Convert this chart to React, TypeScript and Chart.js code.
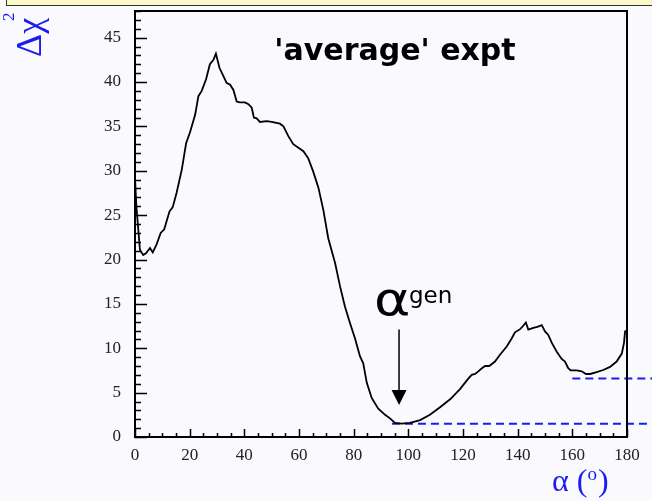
import React, { useEffect, useRef } from "react";
import { Chart, registerables } from "chart.js";

Chart.register(...registerables);

// ---- data ----
const alphaDeg = [
  0, 0.5, 1.2, 1.8, 3.0, 4.0, 5.5, 6.5, 7.9, 9.4, 10.7, 12.6, 13.8, 15.2, 17.1, 18.7, 20.1, 22.0, 23.2, 24.4,
  26.0, 27.4, 28.7, 29.6, 30.9, 32.3, 33.5, 34.8, 36.0, 37.2, 38.4, 40.2, 41.5, 42.7, 43.5, 44.5, 45.7, 48.2,
  50.0, 53.0, 54.3, 56.1, 57.9, 59.8, 61.6, 63.4, 65.2, 67.1, 68.9, 70.7, 73.2, 75.0, 76.8, 78.7, 80.5, 82.3,
  83.5, 84.8, 86.6, 89.0, 91.5, 93.3, 95.1, 97.6, 100.6, 104.3, 107.9, 111.6, 115.3, 118.9, 122.0, 123.2,
  124.4, 125.6, 126.9, 128.1, 129.6, 131.7, 133.6, 136.0, 137.8, 139.0, 140.9, 141.8, 143.0, 143.9, 145.7,
  147.2, 148.8, 150.0, 151.2, 152.5, 154.3, 156.1, 157.3, 158.5, 159.4, 161.6, 163.4, 165.0, 166.5, 168.9,
  171.3, 173.8, 176.2, 178.1, 178.9, 179.3, 180,
];
const deltaChi2 = [
  29.2, 26.0, 23.4, 21.1, 20.5, 20.7, 21.3, 20.8, 21.7, 23.0, 23.4, 25.4, 25.9, 27.5, 30.1, 33.1, 34.3, 36.3, 38.4, 39.0,
  40.3, 42.0, 42.5, 43.2, 41.6, 40.7, 39.9, 39.7, 39.1, 37.8, 37.7, 37.7, 37.5, 37.1, 36.0, 35.9, 35.5, 35.6,
  35.5, 35.3, 35.0, 33.9, 33.0, 32.6, 32.2, 31.4, 29.9, 28.1, 25.6, 22.4, 19.6, 17.0, 14.7, 12.8, 11.1, 9.1,
  8.3, 6.1, 4.4, 3.2, 2.5, 2.1, 1.6, 1.5, 1.6, 1.9, 2.5, 3.35, 4.25, 5.4, 6.6, 7.0,
  7.1, 7.4, 7.75, 8.0, 8.0, 8.5, 9.3, 10.2, 11.1, 11.8, 12.15, 12.45, 12.9, 12.1, 12.3,
  12.4, 12.6, 11.9, 11.5, 10.6, 9.6, 8.8, 8.5, 7.75, 7.5, 7.5, 7.4, 7.1, 7.1, 7.3,
  7.55, 7.9, 8.5, 9.4, 10.6, 11.9, 12.0,
];
const minLevelX = [94, 190];
const minLevelY = [1.5, 1.5];
const secondLevelX = [160, 190];
const secondLevelY = [6.6, 6.6];
const xTickLabels = [0, 20, 40, 60, 80, 100, 120, 140, 160, 180];
const yTickLabels = [0, 5, 10, 15, 20, 25, 30, 35, 40, 45];
const X_MIN = 0, X_MAX = 180, Y_MIN = 0, Y_MAX = 48;
const arrowX = [96.6, 96.6];
const arrowY = [12.1, 3.6];

const BLUE = "#1c1cf0";

const decorPlugin = {
  id: "decor",
  afterDatasetsDraw(chart: any) {
    const { ctx, chartArea: a, scales } = chart;
    const xs = scales.x, ys = scales.y;
    ctx.save();
    // frame
    ctx.strokeStyle = "#000";
    ctx.lineWidth = 2;
    ctx.strokeRect(a.left, a.top, a.right - a.left, a.bottom - a.top);
    // inward ticks
    ctx.lineWidth = 1.5;
    ctx.beginPath();
    for (let v = Y_MIN; v <= Y_MAX; v += 1) {
      const py = Math.round(ys.getPixelForValue(v)) + 0.5;
      const len = v % 5 === 0 ? 12 : 6;
      ctx.moveTo(a.left, py);
      ctx.lineTo(a.left + len, py);
    }
    for (let v = X_MIN; v <= X_MAX; v += 5) {
      const px = Math.round(xs.getPixelForValue(v)) + 0.5;
      const len = v % 20 === 0 ? 8 : 4;
      ctx.moveTo(px, a.bottom);
      ctx.lineTo(px, a.bottom - len);
    }
    ctx.stroke();

    // arrow
    const ax = xs.getPixelForValue(arrowX[0]);
    const ay0 = ys.getPixelForValue(arrowY[0]);
    const ay1 = ys.getPixelForValue(arrowY[1]);
    ctx.strokeStyle = "#000";
    ctx.lineWidth = 1.5;
    ctx.beginPath();
    ctx.moveTo(ax, ay0);
    ctx.lineTo(ax, ay1 - 12);
    ctx.stroke();
    ctx.fillStyle = "#000";
    ctx.beginPath();
    ctx.moveTo(ax - 7.5, ay1 - 15);
    ctx.lineTo(ax + 7.5, ay1 - 15);
    ctx.lineTo(ax, ay1);
    ctx.closePath();
    ctx.fill();

    // alpha^gen label
    ctx.fillStyle = "#000";
    ctx.textAlign = "left";
    ctx.textBaseline = "alphabetic";
    ctx.save();
    ctx.translate(374, 315);
    ctx.scale(1.2, 1);
    ctx.font = "46px 'DejaVu Sans'";
    ctx.fillText("α", 0, 0);
    ctx.restore();
    ctx.font = "23px 'DejaVu Sans'";
    ctx.fillText("gen", 409, 303);

    // title
    ctx.font = "bold 30px 'DejaVu Sans'";
    ctx.textAlign = "center";
    ctx.fillText("'average' expt", 395, 60);

    // y title (rotated)
    ctx.fillStyle = BLUE;
    ctx.save();
    ctx.translate(41, 57);
    ctx.rotate(-Math.PI / 2);
    ctx.textAlign = "left";
    ctx.font = "36px 'Liberation Serif'";
    ctx.fillText("Δχ", 0, 0);
    ctx.font = "17px 'Liberation Serif'";
    ctx.fillText("2", 36, -27);
    ctx.restore();

    // x title
    ctx.textAlign = "left";
    ctx.font = "32px 'Liberation Serif'";
    ctx.fillText("α (", 552, 491);
    const w = ctx.measureText("α (").width;
    ctx.font = "19px 'Liberation Serif'";
    ctx.fillText("o", 552 + w, 480);
    const w2 = ctx.measureText("o").width;
    ctx.font = "32px 'Liberation Serif'";
    ctx.fillText(")", 552 + w + w2 + 1, 491);
    ctx.restore();
  },
};

export default function App() {
  const ref = useRef<HTMLCanvasElement | null>(null);
  useEffect(() => {
    const canvas = ref.current;
    if (!canvas) return;
    const tickFont = { family: "'Liberation Serif'", size: 17 };
    const chart = new Chart(canvas, {
      type: "scatter",
      data: {
        datasets: [
          {
            data: alphaDeg.map((x, i) => ({ x, y: deltaChi2[i] })),
            showLine: true,
            borderColor: "#000",
            borderWidth: 1.8,
            pointRadius: 0,
            tension: 0,
          },
          {
            data: minLevelX.map((x, i) => ({ x, y: minLevelY[i] })),
            showLine: true,
            borderColor: BLUE,
            borderWidth: 2,
            borderDash: [8, 5],
            pointRadius: 0,
            clip: false,
          },
          {
            data: secondLevelX.map((x, i) => ({ x, y: secondLevelY[i] })),
            showLine: true,
            borderColor: BLUE,
            borderWidth: 2,
            borderDash: [8, 5],
            pointRadius: 0,
            clip: false,
          },
        ],
      },
      options: {
        responsive: false,
        animation: false,
        devicePixelRatio: 1,
        layout: { padding: { left: 0, top: 11, right: 25, bottom: 0 } },
        plugins: { legend: { display: false }, tooltip: { enabled: false }, title: { display: false } },
        scales: {
          x: {
            type: "linear",
            min: X_MIN,
            max: X_MAX,
            grid: { display: false, drawTicks: false },
            border: { display: false },
            afterBuildTicks: (s: any) => {
              s.ticks = xTickLabels.map((v) => ({ value: v }));
            },
            afterFit: (s: any) => {
              s.height = 64;
              s.paddingLeft = 0;
              s.paddingRight = 0;
              s.paddingTop = 0;
              s.paddingBottom = 0;
            },
            ticks: { font: tickFont, color: "#222", padding: 8, maxRotation: 0, autoSkip: false },
          },
          y: {
            type: "linear",
            min: Y_MIN,
            max: Y_MAX,
            grid: { display: false, drawTicks: false },
            border: { display: false },
            afterBuildTicks: (s: any) => {
              s.ticks = yTickLabels.map((v) => ({ value: v }));
            },
            afterFit: (s: any) => {
              s.width = 135;
              s.paddingLeft = 0;
              s.paddingRight = 0;
              s.paddingTop = 0;
              s.paddingBottom = 0;
            },
            ticks: { font: tickFont, color: "#222", padding: 14, autoSkip: false },
          },
        },
      },
      plugins: [decorPlugin],
    } as any);
    return () => chart.destroy();
  }, []);

  return (
    <div
      style={{
        position: "fixed",
        left: 0,
        top: 0,
        width: 652,
        height: 501,
        background: "#f9f9fe",
        overflow: "hidden",
      }}
    >
      <div
        style={{
          position: "absolute",
          left: 6,
          top: -20,
          width: 700,
          height: 24,
          background: "#fbf7c8",
          border: "1.5px solid #333",
        }}
      />
      <canvas ref={ref} width={652} height={501} style={{ position: "absolute", left: 0, top: 0 }} />
    </div>
  );
}
